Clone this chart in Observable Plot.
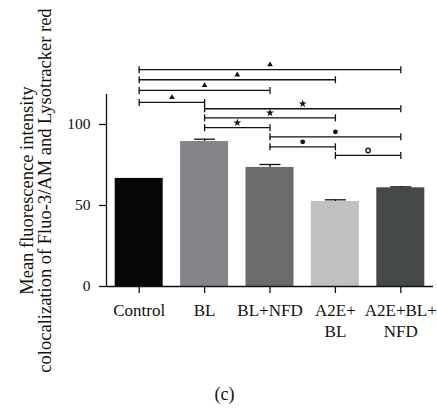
<!DOCTYPE html>
<html><head><meta charset="utf-8">
<script src="https://cdn.jsdelivr.net/npm/d3@7"></script>
<script src="https://cdn.jsdelivr.net/npm/@observablehq/plot@0.6"></script>
<style>
body{margin:0;background:#fff;font-family:"Liberation Serif",serif;}
#cap{width:437px;text-align:center;padding-left:12px;box-sizing:border-box;font-size:18px;line-height:28px;color:#111;}
</style></head><body><div id="chart"></div><div id="cap">(c)</div>
<script>
const categories = ["Control", "BL", "BL+NFD", "A2E+BL", "A2E+BL+NFD"];
const tickLabels = ["Control", "BL", "BL+NFD", "A2E+\nBL", "A2E+BL+\nNFD"];
const means = [66.7, 89.5, 73.5, 52.5, 60.9];
const errors = [0, 1.4, 1.8, 1.0, 0.6];
const barColors = ["#060606", "#858489", "#6b6b6b", "#c1c1c3", "#454848"];
const yTicks = [0, 50, 100];
const yTitle1 = "Mean fluorescence intensity";
const yTitle2 = "colocalization of Fluo-3/AM and Lysotracker red";

const bracketFrom = ["Control", "Control", "Control", "Control", "BL", "BL", "BL", "BL+NFD", "BL+NFD", "A2E+BL"];
const bracketTo = ["A2E+BL+NFD", "A2E+BL", "BL+NFD", "BL", "A2E+BL+NFD", "A2E+BL", "BL+NFD", "A2E+BL+NFD", "A2E+BL", "A2E+BL+NFD"];
const bracketY = [133.8, 127.6, 121.0, 113.6, 109.7, 104.1, 98.0, 92.4, 86.2, 80.9];
const bracketSymbol = ["triangle", "triangle", "triangle", "triangle", "star", "star", "star", "dot", "dot", "circle"];

const bars = categories.map((c, i) => ({i, c, mean: means[i], err: errors[i], color: barColors[i]}));
const errBars = bars.filter(d => d.err > 0);
const brackets = bracketFrom.map((f, k) => ({
  a: categories.indexOf(f), b: categories.indexOf(bracketTo[k]), y: bracketY[k], sym: bracketSymbol[k]
}));
const vline = {draw(ctx, size) { const h = Math.sqrt(size / Math.PI); ctx.moveTo(0, -h); ctx.lineTo(0, h); }};
const hline = {draw(ctx, size) { const h = Math.sqrt(size / Math.PI); ctx.moveTo(-h, 0); ctx.lineTo(h, 0); }};
const ink = "#111";
const mid = d => (d.a + d.b) / 2;

const chart = Plot.plot({
  width: 437, height: 380,
  marginLeft: 106, marginRight: 4, marginTop: 94, marginBottom: 94,
  style: {fontFamily: "Liberation Serif", color: ink, background: "#fff", overflow: "visible"},
  x: {domain: [-0.5, 4.5]},
  y: {domain: [0, 118.5]},
  color: {type: "identity"},
  marks: [
    Plot.rectY(bars, {x1: d => d.i - 0.5, x2: d => d.i + 0.5, y: "mean", fill: "color", insetLeft: 8.7, insetRight: 8.7}),
    Plot.ruleX(errBars, {x: "i", y1: "mean", y2: d => d.mean + d.err, stroke: ink, strokeWidth: 1.3}),
    Plot.dot(errBars, {x: "i", y: d => d.mean + d.err, symbol: hline, r: 10.5, stroke: ink, fill: "none", strokeWidth: 1.3}),
    Plot.ruleY([0], {stroke: ink, strokeWidth: 1.3}),
    Plot.ruleX([-0.5], {y1: 0, y2: 118.5, stroke: ink, strokeWidth: 1.3}),
    Plot.axisY({ticks: yTicks, tickSize: 7, tickPadding: 9, fontSize: 15.5, label: null, stroke: ink, strokeWidth: 1.3}),
    Plot.axisX({ticks: [0, 1, 2, 3, 4], tickFormat: i => tickLabels[i], tickSize: 7, tickPadding: 8, fontSize: 17, lineHeight: 1.22, label: null, stroke: ink, strokeWidth: 1.3}),
    Plot.ruleY(brackets, {x1: "a", x2: "b", y: "y", stroke: ink, strokeWidth: 1.3, clip: false}),
    Plot.dot(brackets, {x: "a", y: "y", symbol: vline, r: 3.5, stroke: ink, fill: "none", strokeWidth: 1.3}),
    Plot.dot(brackets, {x: "b", y: "y", symbol: vline, r: 3.5, stroke: ink, fill: "none", strokeWidth: 1.3}),
    Plot.dot(brackets.filter(d => d.sym === "triangle"), {x: mid, y: "y", dy: -5, symbol: "triangle", r: 2.1, fill: ink, stroke: "none"}),
    Plot.dot(brackets.filter(d => d.sym === "star"), {x: mid, y: "y", dy: -5, symbol: "star", r: 2.5, fill: ink, stroke: "none"}),
    Plot.dot(brackets.filter(d => d.sym === "dot"), {x: mid, y: "y", dy: -5, symbol: "circle", r: 2.4, fill: ink, stroke: "none"}),
    Plot.dot(brackets.filter(d => d.sym === "circle"), {x: mid, y: "y", dy: -5, symbol: "circle", r: 2.2, fill: "#fff", stroke: ink, strokeWidth: 1.3}),
    Plot.text([yTitle1], {frameAnchor: "left", rotate: -90, dx: -79, textAnchor: "middle", lineAnchor: "middle", fontSize: 18.5, fill: ink}),
    Plot.text([yTitle2], {frameAnchor: "left", rotate: -90, dx: -61, textAnchor: "middle", lineAnchor: "middle", fontSize: 18.5, fill: ink})
  ]
});
document.getElementById("chart").appendChild(chart);
</script>
</body></html>
